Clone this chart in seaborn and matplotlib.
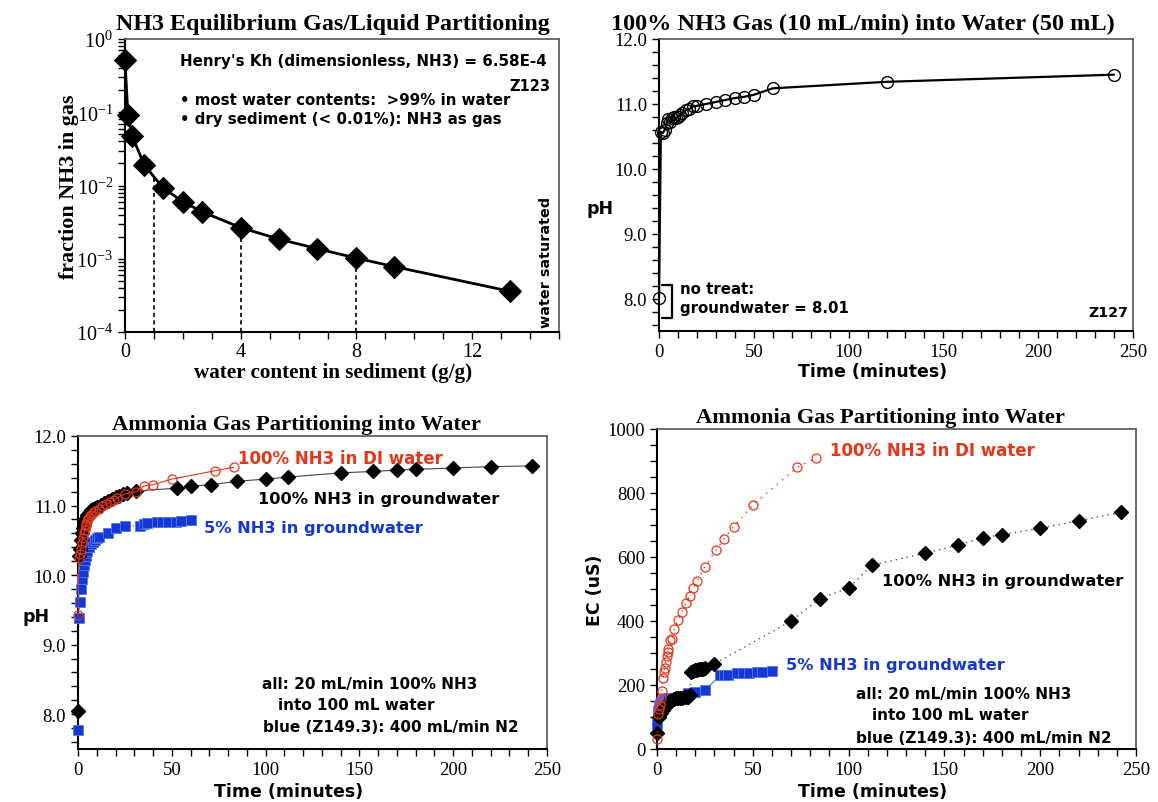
import numpy as np
import matplotlib
matplotlib.use("Agg")
import matplotlib.pyplot as plt
import seaborn as sns
from matplotlib.ticker import MultipleLocator, FormatStrFormatter, LogLocator, LogFormatterMathtext, NullFormatter

# ---------------- data ----------------
# Panel 1: equilibrium partitioning
water_content = [0, 0.1, 0.25, 0.67, 1.31, 2.0, 2.65, 4.0, 5.33, 6.65, 8.0, 9.31, 13.3]
frac_gas = [0.51, 0.093, 0.047, 0.019, 0.0093, 0.006, 0.0044, 0.00266, 0.00185, 0.00137, 0.00102, 0.00078, 0.00036]
guide_x = [1, 4, 8]

# Panel 2: 100% NH3 10 mL/min into 50 mL water
p2_time = [0, 1, 2, 3, 4, 5, 6, 7, 8, 9, 10, 11, 12, 14, 16, 18, 20, 25, 30, 35, 40, 45, 50, 60, 120, 240]
p2_ph = [8.01, 10.57, 10.55, 10.6, 10.7, 10.76, 10.72, 10.79, 10.8, 10.78, 10.8, 10.83, 10.86, 10.9, 10.92,
         10.96, 10.97, 11.0, 11.03, 11.06, 11.09, 11.11, 11.14, 11.24, 11.34, 11.45]

# Panel 3/4: DI water (red)
di_time = [0, 0.5, 1, 1.5, 2, 2.5, 3, 3.5, 4, 4.5, 5, 5.5, 6, 7, 8, 9, 11, 13, 15, 17, 19, 21, 25, 31, 35, 40, 50, 73, 83]
di_ph = [9.43, 10.25, 10.3, 10.38, 10.46, 10.54, 10.6, 10.65, 10.7, 10.74, 10.78, 10.81, 10.84, 10.87, 10.9,
         10.92, 10.95, 10.99, 11.02, 11.05, 11.08, 11.11, 11.17, 11.2, 11.28, 11.3, 11.38, 11.5, 11.55]
di_ec = [31, 108, 125, 139, 160, 180, 222, 240, 253, 271, 290, 302, 313, 341, 344, 375, 403, 428, 455, 479,
         503, 525, 570, 623, 657, 695, 762, 880, 909]

# 100% NH3 in groundwater (black)
gw_ph_time = [0, 0.5, 1, 1.5, 2, 2.5, 3, 3.5, 4, 5, 6, 7, 8, 9, 10, 12, 14, 16, 18, 20, 22, 24, 26, 31,
              53, 60, 71, 85, 100, 112, 140, 157, 170, 180, 200, 220, 242]
gw_ph = [8.05, 10.27, 10.38, 10.5, 10.6, 10.68, 10.74, 10.78, 10.82, 10.87, 10.9, 10.93, 10.95, 10.96, 10.98,
         11.01, 11.04, 11.07, 11.09, 11.12, 11.14, 11.16, 11.18, 11.21, 11.25, 11.28, 11.3, 11.35, 11.38, 11.41,
         11.47, 11.49, 11.51, 11.52, 11.54, 11.56, 11.57]
gw_ec_time = [0, 1, 2, 3, 4, 5, 6, 7, 8, 9, 10, 11, 12, 13, 14, 15, 16, 17, 18, 19, 20, 21, 22, 23, 24, 25, 30,
              70, 85, 100, 112, 140, 157, 170, 180, 200, 220, 242]
gw_ec = [49, 100, 112, 122, 132, 138, 144, 150, 154, 157, 158, 159, 159, 160, 161, 162, 164, 170, 242, 245, 247,
         248, 249, 250, 251, 252, 266, 400, 470, 503, 574, 612, 637, 660, 670, 690, 713, 740]

# 5% NH3 in groundwater (blue)
b_time = [0, 0.3, 1, 1.5, 2, 2.5, 3, 3.5, 4, 4.5, 5, 6, 7, 8, 9, 10, 11, 16, 20, 25, 33, 35, 37, 42, 45, 48, 52, 55, 60]
b_ph = [7.77, 9.38, 9.62, 9.8, 9.95, 10.05, 10.15, 10.22, 10.28, 10.32, 10.35, 10.41, 10.45, 10.48, 10.51, 10.53,
        10.55, 10.6, 10.68, 10.71, 10.71, 10.73, 10.75, 10.76, 10.76, 10.77, 10.77, 10.78, 10.79]
b_ec = [78, 120, 135, 140, 145, 148, 150, 152, 153, 155, 156, 158, 159, 160, 160, 160, 162, 176, 178, 184, 230,
        231, 232, 236, 237, 238, 240, 240, 245]

RED = "#e5361b"
BLUE = "#1437d6"
SANS = "DejaVu Sans"
SERIF = "Liberation Serif"

sns.set_style("ticks")
plt.rcParams["font.family"] = [SERIF, "DejaVu Serif"]
plt.rcParams["mathtext.fontset"] = "stix"
plt.rcParams["text.color"] = "black"
plt.rcParams["axes.labelcolor"] = "black"
plt.rcParams["xtick.color"] = "black"
plt.rcParams["ytick.color"] = "black"

fig = plt.figure(figsize=(11.58, 8.03), dpi=100)

W, H = 1158, 803
def rect(l, t, r, b):
    return [l / W, 1 - b / H, (r - l) / W, (b - t) / H]

ax1 = fig.add_axes(rect(125, 40, 559, 333))
ax2 = fig.add_axes(rect(659, 40, 1133, 332))
ax3 = fig.add_axes(rect(78, 437, 547, 750))
ax4 = fig.add_axes(rect(657, 430, 1136, 750))

def style_axes(ax, labelsize=13.5):
    for s in ["left", "bottom"]:
        ax.spines[s].set_color("black")
        ax.spines[s].set_linewidth(1.5)
    for s in ["top", "right"]:
        ax.spines[s].set_visible(True)
        ax.spines[s].set_color("#555555")
        ax.spines[s].set_linewidth(1.2)
    ax.tick_params(which="both", direction="out", length=5, width=1.0, colors="black",
                   labelsize=labelsize, top=False, right=False)
    for lab in ax.get_xticklabels() + ax.get_yticklabels():
        lab.set_fontfamily(SERIF)

# ---------------- Panel 1 ----------------
sns.lineplot(x=water_content, y=frac_gas, ax=ax1, color="black", lw=2, marker="D", markersize=11,
             markeredgecolor="black", sort=False, estimator=None, clip_on=False, zorder=3)
ax1.set_yscale("log")
ax1.set_xlim(0, 15)
ax1.set_ylim(1e-4, 1)
log_fg = np.log10(frac_gas)
for gx in guide_x:
    top = 10 ** np.interp(gx, water_content, log_fg)
    ax1.plot([gx, gx], [1e-4, top], color="black", lw=1.2, ls=(0, (2.5, 2)), zorder=2)
ax1.xaxis.set_major_locator(MultipleLocator(4))
ax1.xaxis.set_minor_locator(MultipleLocator(1))
ax1.yaxis.set_major_locator(LogLocator(base=10, numticks=10))
ax1.yaxis.set_minor_locator(LogLocator(base=10, subs=np.arange(2, 10), numticks=10))
ax1.yaxis.set_major_formatter(LogFormatterMathtext())
ax1.yaxis.set_minor_formatter(NullFormatter())
style_axes(ax1, labelsize=14.5)
ax1.tick_params(axis="x", pad=2)
ax1.set_title("NH3 Equilibrium Gas/Liquid Partitioning", fontsize=17.3, fontweight="bold",
              family=SERIF, pad=7, x=0.48)
ax1.set_xlabel("water content in sediment (g/g)", fontsize=15.2, fontweight="bold", family=SERIF)
ax1.xaxis.set_label_coords(0.48, -0.103)
ax1.set_ylabel("fraction NH3 in gas", fontsize=15.8, fontweight="bold", family=SERIF)
ax1.yaxis.set_label_coords(-0.105, 0.5)
ax1.text(0.127, 0.925, "Henry's Kh (dimensionless, NH3) = 6.58E-4", transform=ax1.transAxes,
         fontsize=10.9, fontweight="bold", family=SANS, va="center", ha="left")
ax1.text(0.979, 0.843, "Z123", transform=ax1.transAxes, fontsize=10.5, fontweight="bold", family=SANS,
         va="center", ha="right")
ax1.text(0.127, 0.795, "\u2022 most water contents:  >99% in water", transform=ax1.transAxes,
         fontsize=10.8, fontweight="bold", family=SANS, va="center", ha="left")
ax1.text(0.127, 0.730, "\u2022 dry sediment (< 0.01%): NH3 as gas", transform=ax1.transAxes,
         fontsize=10.8, fontweight="bold", family=SANS, va="center", ha="left")
ax1.text(0.97, 0.017, "water saturated", transform=ax1.transAxes, rotation=90, fontsize=10.4,
         fontweight="bold", family=SANS, va="bottom", ha="center")

# ---------------- Panel 2 ----------------
sns.lineplot(x=p2_time, y=p2_ph, ax=ax2, color="black", lw=1.6, marker="o", markersize=8.5,
             markerfacecolor="none", markeredgecolor="black", markeredgewidth=1.0,
             sort=False, estimator=None, clip_on=False)
ax2.set_xlim(0, 250)
ax2.set_ylim(7.5, 12)
ax2.xaxis.set_major_locator(MultipleLocator(50))
ax2.xaxis.set_minor_locator(MultipleLocator(10))
ax2.yaxis.set_major_locator(MultipleLocator(1))
ax2.yaxis.set_minor_locator(MultipleLocator(0.2))
ax2.yaxis.set_major_formatter(FormatStrFormatter("%.1f"))
style_axes(ax2)
ax2.set_title("100% NH3 Gas (10 mL/min) into Water (50 mL)", fontsize=17.5, fontweight="bold",
              family=SERIF, pad=7, x=0.43)
ax2.set_xlabel("Time (minutes)", fontsize=12.5, fontweight="bold", family=SANS)
ax2.xaxis.set_label_coords(0.45, -0.105)
ax2.set_ylabel("pH", fontsize=12.5, fontweight="bold", family=SANS, rotation=0)
ax2.yaxis.set_label_coords(-0.125, 0.39)
ax2.plot([1.5, 6.9, 6.9, 1.5], [8.21, 8.21, 7.70, 7.70], color="black", lw=1.6)
ax2.text(0.045, 0.147, "no treat:", transform=ax2.transAxes, fontsize=10.8, fontweight="bold",
         family=SANS, va="center", ha="left")
ax2.text(0.045, 0.082, "groundwater = 8.01", transform=ax2.transAxes, fontsize=10.8, fontweight="bold",
         family=SANS, va="center", ha="left")
ax2.text(0.99, 0.065, "Z127", transform=ax2.transAxes, fontsize=10.3, fontweight="bold",
         family=SANS, va="center", ha="right")

# ---------------- Panel 3 ----------------
sns.lineplot(x=gw_ph_time, y=gw_ph, ax=ax3, color="#444444", lw=0.8, sort=False, estimator=None, zorder=2)
sns.lineplot(x=b_time, y=b_ph, ax=ax3, color="#3355cc", lw=0.8, ls=":", sort=False, estimator=None, zorder=2)
sns.lineplot(x=di_time, y=di_ph, ax=ax3, color=RED, lw=0.8, sort=False, estimator=None, zorder=4)
ax3.plot(b_time, b_ph, ls="none", marker="s", markersize=7.5, color=BLUE, markeredgecolor="#5577ee",
         markeredgewidth=0.6, clip_on=False, zorder=3)
ax3.plot(gw_ph_time, gw_ph, ls="none", marker="D", markersize=7, color="black", clip_on=False, zorder=3)
ax3.plot(di_time, di_ph, ls="none", marker="o", markersize=6.5, markerfacecolor="none",
         markeredgecolor=RED, markeredgewidth=0.9, clip_on=False, zorder=5)
ax3.set_xlim(0, 250)
ax3.set_ylim(7.5, 12)
ax3.xaxis.set_major_locator(MultipleLocator(50))
ax3.xaxis.set_minor_locator(MultipleLocator(10))
ax3.yaxis.set_major_locator(MultipleLocator(1))
ax3.yaxis.set_minor_locator(MultipleLocator(0.2))
ax3.yaxis.set_major_formatter(FormatStrFormatter("%.1f"))
style_axes(ax3)
ax3.set_title("Ammonia Gas Partitioning into Water", fontsize=16.2, fontweight="bold", family=SERIF,
              pad=5, x=0.466)
ax3.set_xlabel("Time (minutes)", fontsize=12.5, fontweight="bold", family=SANS)
ax3.xaxis.set_label_coords(0.45, -0.105)
ax3.set_ylabel("pH", fontsize=12.5, fontweight="bold", family=SANS, rotation=0)
ax3.yaxis.set_label_coords(-0.09, 0.395)
ax3.text(85.5, 11.69, "100% NH3 in DI water", color=RED, fontsize=12, fontweight="bold", family=SANS,
         va="center", ha="left")
ax3.text(95.7, 11.1, "100% NH3 in groundwater", color="black", fontsize=11.7, fontweight="bold",
         family=SANS, va="center", ha="left")
ax3.text(67.4, 10.68, "5% NH3 in groundwater", color=BLUE, fontsize=11.7, fontweight="bold", family=SANS,
         va="center", ha="left")
ax3.text(98.3, 8.44, "all: 20 mL/min 100% NH3", fontsize=11, fontweight="bold", family=SANS,
         va="center", ha="left")
ax3.text(106.6, 8.14, "into 100 mL water", fontsize=11, fontweight="bold", family=SANS,
         va="center", ha="left")
ax3.text(98.7, 7.83, "blue (Z149.3): 400 mL/min N2", fontsize=11, fontweight="bold", family=SANS,
         va="center", ha="left")

# ---------------- Panel 4 ----------------
sns.lineplot(x=gw_ec_time, y=gw_ec, ax=ax4, color="#555555", lw=1.0, ls=(0, (1, 3)), sort=False,
             estimator=None, zorder=2)
sns.lineplot(x=b_time, y=b_ec, ax=ax4, color="#6688ee", lw=1.0, sort=False, estimator=None, zorder=2)
sns.lineplot(x=di_time, y=di_ec, ax=ax4, color=RED, lw=1.0, ls=(0, (1, 4)), sort=False, estimator=None,
             zorder=4)
ax4.plot(b_time, b_ec, ls="none", marker="s", markersize=7.5, color=BLUE, markeredgecolor="#5577ee",
         markeredgewidth=0.6, clip_on=False, zorder=3)
ax4.plot(gw_ec_time, gw_ec, ls="none", marker="D", markersize=7, color="black", clip_on=False, zorder=3)
ax4.plot(di_time, di_ec, ls="none", marker="o", markersize=6.5, markerfacecolor="none",
         markeredgecolor=RED, markeredgewidth=0.9, clip_on=False, zorder=5)
ax4.set_xlim(0, 250)
ax4.set_ylim(0, 1000)
ax4.xaxis.set_major_locator(MultipleLocator(50))
ax4.xaxis.set_minor_locator(MultipleLocator(10))
ax4.yaxis.set_major_locator(MultipleLocator(200))
ax4.yaxis.set_minor_locator(MultipleLocator(50))
style_axes(ax4)
ax4.set_title("Ammonia Gas Partitioning into Water", fontsize=16.2, fontweight="bold", family=SERIF,
              pad=5, x=0.466)
ax4.set_xlabel("Time (minutes)", fontsize=12.5, fontweight="bold", family=SANS)
ax4.xaxis.set_label_coords(0.45, -0.103)
ax4.set_ylabel("EC (uS)", fontsize=12.5, fontweight="bold", family=SANS)
ax4.yaxis.set_label_coords(-0.11, 0.5)
ax4.text(90.5, 933, "100% NH3 in DI water", color=RED, fontsize=12, fontweight="bold", family=SANS,
         va="center", ha="left")
ax4.text(117.5, 528, "100% NH3 in groundwater", color="black", fontsize=11.7, fontweight="bold",
         family=SANS, va="center", ha="left")
ax4.text(67.3, 264, "5% NH3 in groundwater", color=BLUE, fontsize=11.7, fontweight="bold", family=SANS,
         va="center", ha="left")
ax4.text(104, 174, "all: 20 mL/min 100% NH3", fontsize=11, fontweight="bold", family=SANS,
         va="center", ha="left")
ax4.text(112.3, 107, "into 100 mL water", fontsize=11, fontweight="bold", family=SANS,
         va="center", ha="left")
ax4.text(104, 36, "blue (Z149.3): 400 mL/min N2", fontsize=11, fontweight="bold", family=SANS,
         va="center", ha="left")

fig.savefig("out.png", dpi=100)
